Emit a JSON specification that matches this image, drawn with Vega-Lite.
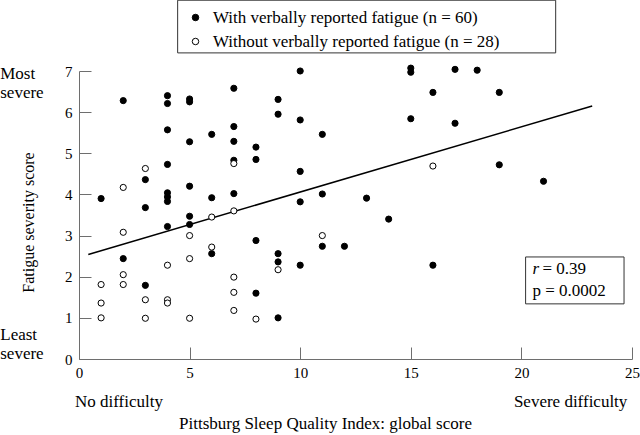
{
  "$schema": "https://vega.github.io/schema/vega-lite/v6.json",
  "autosize": "none",
  "width": 553,
  "height": 288,
  "padding": {"left": 79, "top": 71, "right": 8, "bottom": 76},
  "background": "white",
  "config": {"view": {"stroke": null}, "font": "Liberation Serif"},
  "datasets": {
    "pts": [
      {"psqi": 1, "fss": 3.9, "group": "With verbally reported fatigue (n = 60)"},
      {"psqi": 2, "fss": 6.28, "group": "With verbally reported fatigue (n = 60)"},
      {"psqi": 2, "fss": 2.44, "group": "With verbally reported fatigue (n = 60)"},
      {"psqi": 3, "fss": 4.36, "group": "With verbally reported fatigue (n = 60)"},
      {"psqi": 3, "fss": 3.68, "group": "With verbally reported fatigue (n = 60)"},
      {"psqi": 3, "fss": 1.79, "group": "With verbally reported fatigue (n = 60)"},
      {"psqi": 4, "fss": 6.4, "group": "With verbally reported fatigue (n = 60)"},
      {"psqi": 4, "fss": 6.21, "group": "With verbally reported fatigue (n = 60)"},
      {"psqi": 4, "fss": 5.57, "group": "With verbally reported fatigue (n = 60)"},
      {"psqi": 4, "fss": 4.73, "group": "With verbally reported fatigue (n = 60)"},
      {"psqi": 4, "fss": 4.04, "group": "With verbally reported fatigue (n = 60)"},
      {"psqi": 4, "fss": 3.94, "group": "With verbally reported fatigue (n = 60)"},
      {"psqi": 4, "fss": 3.83, "group": "With verbally reported fatigue (n = 60)"},
      {"psqi": 4, "fss": 3.22, "group": "With verbally reported fatigue (n = 60)"},
      {"psqi": 5, "fss": 6.32, "group": "With verbally reported fatigue (n = 60)"},
      {"psqi": 5, "fss": 6.25, "group": "With verbally reported fatigue (n = 60)"},
      {"psqi": 5, "fss": 5.28, "group": "With verbally reported fatigue (n = 60)"},
      {"psqi": 5, "fss": 4.2, "group": "With verbally reported fatigue (n = 60)"},
      {"psqi": 5, "fss": 3.47, "group": "With verbally reported fatigue (n = 60)"},
      {"psqi": 5, "fss": 3.27, "group": "With verbally reported fatigue (n = 60)"},
      {"psqi": 6, "fss": 5.46, "group": "With verbally reported fatigue (n = 60)"},
      {"psqi": 6, "fss": 3.92, "group": "With verbally reported fatigue (n = 60)"},
      {"psqi": 6, "fss": 2.56, "group": "With verbally reported fatigue (n = 60)"},
      {"psqi": 7, "fss": 6.58, "group": "With verbally reported fatigue (n = 60)"},
      {"psqi": 7, "fss": 5.65, "group": "With verbally reported fatigue (n = 60)"},
      {"psqi": 7, "fss": 5.29, "group": "With verbally reported fatigue (n = 60)"},
      {"psqi": 7, "fss": 4.83, "group": "With verbally reported fatigue (n = 60)"},
      {"psqi": 7, "fss": 4.02, "group": "With verbally reported fatigue (n = 60)"},
      {"psqi": 8, "fss": 5.15, "group": "With verbally reported fatigue (n = 60)"},
      {"psqi": 8, "fss": 4.85, "group": "With verbally reported fatigue (n = 60)"},
      {"psqi": 8, "fss": 2.88, "group": "With verbally reported fatigue (n = 60)"},
      {"psqi": 8, "fss": 1.6, "group": "With verbally reported fatigue (n = 60)"},
      {"psqi": 9, "fss": 6.31, "group": "With verbally reported fatigue (n = 60)"},
      {"psqi": 9, "fss": 5.95, "group": "With verbally reported fatigue (n = 60)"},
      {"psqi": 9, "fss": 2.56, "group": "With verbally reported fatigue (n = 60)"},
      {"psqi": 9, "fss": 2.36, "group": "With verbally reported fatigue (n = 60)"},
      {"psqi": 9, "fss": 1.0, "group": "With verbally reported fatigue (n = 60)"},
      {"psqi": 10, "fss": 7.0, "group": "With verbally reported fatigue (n = 60)"},
      {"psqi": 10, "fss": 5.81, "group": "With verbally reported fatigue (n = 60)"},
      {"psqi": 10, "fss": 4.56, "group": "With verbally reported fatigue (n = 60)"},
      {"psqi": 10, "fss": 3.82, "group": "With verbally reported fatigue (n = 60)"},
      {"psqi": 10, "fss": 2.28, "group": "With verbally reported fatigue (n = 60)"},
      {"psqi": 11, "fss": 5.46, "group": "With verbally reported fatigue (n = 60)"},
      {"psqi": 11, "fss": 4.01, "group": "With verbally reported fatigue (n = 60)"},
      {"psqi": 11, "fss": 2.74, "group": "With verbally reported fatigue (n = 60)"},
      {"psqi": 12, "fss": 2.74, "group": "With verbally reported fatigue (n = 60)"},
      {"psqi": 13, "fss": 3.91, "group": "With verbally reported fatigue (n = 60)"},
      {"psqi": 14, "fss": 3.4, "group": "With verbally reported fatigue (n = 60)"},
      {"psqi": 15, "fss": 7.07, "group": "With verbally reported fatigue (n = 60)"},
      {"psqi": 15, "fss": 6.97, "group": "With verbally reported fatigue (n = 60)"},
      {"psqi": 15, "fss": 5.84, "group": "With verbally reported fatigue (n = 60)"},
      {"psqi": 16, "fss": 6.48, "group": "With verbally reported fatigue (n = 60)"},
      {"psqi": 16, "fss": 2.28, "group": "With verbally reported fatigue (n = 60)"},
      {"psqi": 17, "fss": 7.04, "group": "With verbally reported fatigue (n = 60)"},
      {"psqi": 17, "fss": 5.73, "group": "With verbally reported fatigue (n = 60)"},
      {"psqi": 18, "fss": 7.02, "group": "With verbally reported fatigue (n = 60)"},
      {"psqi": 19, "fss": 6.48, "group": "With verbally reported fatigue (n = 60)"},
      {"psqi": 19, "fss": 4.72, "group": "With verbally reported fatigue (n = 60)"},
      {"psqi": 21, "fss": 4.32, "group": "With verbally reported fatigue (n = 60)"},
      {"psqi": 1, "fss": 1.81, "group": "Without verbally reported fatigue (n = 28)"},
      {"psqi": 1, "fss": 1.36, "group": "Without verbally reported fatigue (n = 28)"},
      {"psqi": 1, "fss": 1.0, "group": "Without verbally reported fatigue (n = 28)"},
      {"psqi": 2, "fss": 4.17, "group": "Without verbally reported fatigue (n = 28)"},
      {"psqi": 2, "fss": 3.08, "group": "Without verbally reported fatigue (n = 28)"},
      {"psqi": 2, "fss": 2.05, "group": "Without verbally reported fatigue (n = 28)"},
      {"psqi": 2, "fss": 1.81, "group": "Without verbally reported fatigue (n = 28)"},
      {"psqi": 3, "fss": 4.63, "group": "Without verbally reported fatigue (n = 28)"},
      {"psqi": 3, "fss": 1.44, "group": "Without verbally reported fatigue (n = 28)"},
      {"psqi": 3, "fss": 0.99, "group": "Without verbally reported fatigue (n = 28)"},
      {"psqi": 4, "fss": 2.28, "group": "Without verbally reported fatigue (n = 28)"},
      {"psqi": 4, "fss": 1.44, "group": "Without verbally reported fatigue (n = 28)"},
      {"psqi": 4, "fss": 1.36, "group": "Without verbally reported fatigue (n = 28)"},
      {"psqi": 5, "fss": 3.0, "group": "Without verbally reported fatigue (n = 28)"},
      {"psqi": 5, "fss": 2.44, "group": "Without verbally reported fatigue (n = 28)"},
      {"psqi": 5, "fss": 0.99, "group": "Without verbally reported fatigue (n = 28)"},
      {"psqi": 6, "fss": 3.45, "group": "Without verbally reported fatigue (n = 28)"},
      {"psqi": 6, "fss": 2.72, "group": "Without verbally reported fatigue (n = 28)"},
      {"psqi": 7, "fss": 4.75, "group": "Without verbally reported fatigue (n = 28)"},
      {"psqi": 7, "fss": 3.6, "group": "Without verbally reported fatigue (n = 28)"},
      {"psqi": 7, "fss": 1.99, "group": "Without verbally reported fatigue (n = 28)"},
      {"psqi": 7, "fss": 1.62, "group": "Without verbally reported fatigue (n = 28)"},
      {"psqi": 7, "fss": 1.18, "group": "Without verbally reported fatigue (n = 28)"},
      {"psqi": 8, "fss": 0.97, "group": "Without verbally reported fatigue (n = 28)"},
      {"psqi": 9, "fss": 2.17, "group": "Without verbally reported fatigue (n = 28)"},
      {"psqi": 11, "fss": 3.0, "group": "Without verbally reported fatigue (n = 28)"},
      {"psqi": 16, "fss": 4.69, "group": "Without verbally reported fatigue (n = 28)"}
    ],
    "fit": [{"psqi": 0.42, "fss": 2.54}, {"psqi": 23.2, "fss": 6.15}],
    "frames": [
      {"psqi": 20.19, "psqi2": 24.64, "fss": 1.34, "fss2": 2.48},
      {"psqi": 4.46, "psqi2": 21.55, "fss": 7.44, "fss2": 8.72}
    ],
    "leftText": [
      {"psqi": -3.56, "fss": 6.8, "t": "Most\nsevere"},
      {"psqi": -3.56, "fss": 0.45, "t": "Least\nsevere"},
      {"psqi": -0.18, "fss": -1.16, "t": "No difficulty"},
      {"psqi": 20.5, "fss": 1.52, "t": "p = 0.0002"}
    ],
    "rightText": [
      {"psqi": 24.79, "fss": -1.16, "t": "Severe difficulty"}
    ],
    "rText": [{"psqi": 20.5, "fss": 2.06, "t": "r"}],
    "rVal": [{"psqi": 20.5, "fss": 2.06, "t": "= 0.39"}]
  },
  "layer": [
    {
      "data": {"name": "fit"},
      "mark": {"type": "line", "color": "black", "strokeWidth": 1.5},
      "encoding": {
        "x": {"field": "psqi", "type": "quantitative"},
        "y": {"field": "fss", "type": "quantitative"}
      }
    },
    {
      "data": {"name": "frames"},
      "mark": {"type": "rect", "fill": "white", "fillOpacity": 0, "stroke": "#333333", "strokeWidth": 1},
      "encoding": {
        "x": {"field": "psqi", "type": "quantitative"},
        "x2": {"field": "psqi2"},
        "y": {"field": "fss", "type": "quantitative"},
        "y2": {"field": "fss2"}
      }
    },
    {
      "data": {"name": "pts"},
      "mark": {"type": "point", "shape": "circle", "filled": true, "stroke": "black", "strokeWidth": 1, "size": 38, "opacity": 1},
      "encoding": {
        "x": {
          "field": "psqi", "type": "quantitative",
          "scale": {"domain": [0, 25], "nice": false, "zero": true},
          "axis": {
            "title": "Pittsburg Sleep Quality Index: global score",
            "values": [0, 5, 10, 15, 20, 25], "grid": false,
            "tickSize": -12, "labelPadding": 18,
            "domainColor": "#6e6e6e", "tickColor": "#6e6e6e",
            "labelFont": "Liberation Serif", "labelFontSize": 15, "labelColor": "black", "labelFlush": false,
            "titleFont": "Liberation Serif", "titleFontSize": 17, "titleFontWeight": "normal", "titleColor": "black",
            "titlePadding": 35, "titleX": 246, "titleAlign": "center"
          }
        },
        "y": {
          "field": "fss", "type": "quantitative",
          "scale": {"domain": [0, 7], "nice": false},
          "axis": {
            "title": "Fatigue severity score",
            "values": [0, 1, 2, 3, 4, 5, 6, 7], "grid": false,
            "tickSize": -12, "labelPadding": 19,
            "domainColor": "#6e6e6e", "tickColor": "#6e6e6e",
            "labelFont": "Liberation Serif", "labelFontSize": 15, "labelColor": "black", "labelFlush": false,
            "titleFont": "Liberation Serif", "titleFontSize": 16, "titleFontWeight": "normal", "titleColor": "black",
            "titlePadding": 28, "titleY": 151
          }
        },
        "fill": {
          "field": "group", "type": "nominal",
          "scale": {"domain": ["With verbally reported fatigue (n = 60)", "Without verbally reported fatigue (n = 28)"], "range": ["black", "white"]},
          "legend": {
            "title": null, "orient": "none", "legendX": 108, "legendY": -62, "direction": "vertical",
            "padding": 0,
            "labelFont": "Liberation Serif", "labelFontSize": 17, "labelColor": "black", "labelLimit": 500, "labelOffset": 9,
            "symbolType": "circle", "symbolSize": 42, "symbolStrokeColor": "black", "symbolStrokeWidth": 1,
            "rowPadding": 6
          }
        }
      }
    },
    {
      "data": {"name": "leftText"},
      "mark": {"type": "text", "align": "left", "baseline": "alphabetic", "fontSize": 17, "font": "Liberation Serif", "color": "black", "lineBreak": "\n", "lineHeight": 19},
      "encoding": {
        "x": {"field": "psqi", "type": "quantitative"},
        "y": {"field": "fss", "type": "quantitative"},
        "text": {"field": "t"}
      }
    },
    {
      "data": {"name": "rightText"},
      "mark": {"type": "text", "align": "right", "baseline": "alphabetic", "fontSize": 17, "font": "Liberation Serif", "color": "black"},
      "encoding": {
        "x": {"field": "psqi", "type": "quantitative"},
        "y": {"field": "fss", "type": "quantitative"},
        "text": {"field": "t"}
      }
    },
    {
      "data": {"name": "rText"},
      "mark": {"type": "text", "align": "left", "baseline": "alphabetic", "fontSize": 17, "font": "Liberation Serif", "fontStyle": "italic", "color": "black"},
      "encoding": {
        "x": {"field": "psqi", "type": "quantitative"},
        "y": {"field": "fss", "type": "quantitative"},
        "text": {"field": "t"}
      }
    },
    {
      "data": {"name": "rVal"},
      "mark": {"type": "text", "align": "left", "baseline": "alphabetic", "fontSize": 17, "font": "Liberation Serif", "color": "black", "dx": 10},
      "encoding": {
        "x": {"field": "psqi", "type": "quantitative"},
        "y": {"field": "fss", "type": "quantitative"},
        "text": {"field": "t"}
      }
    }
  ]
}
